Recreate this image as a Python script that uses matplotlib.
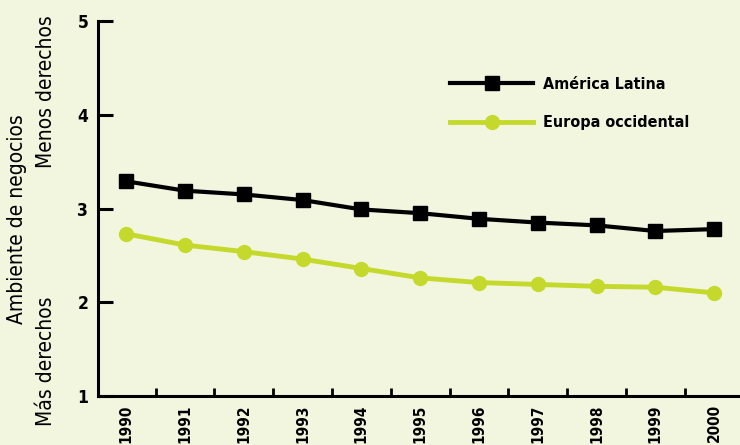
import matplotlib.pyplot as plt

years = ['1990', '1991', '1992', '1993', '1994', '1995',
         '1996', '1997', '1998', '1999', '2000']
america_latina = [3.29, 3.19, 3.15, 3.09, 2.99, 2.95, 2.89, 2.85, 2.82, 2.76, 2.78]
europa_occidental = [2.73, 2.61, 2.54, 2.46, 2.36, 2.26, 2.21, 2.19, 2.17, 2.16, 2.10]

BG = '#F2F6DF'
GREEN = '#C5D92D'

plt.rcParams['font.family'] = ['DejaVu Sans']
plt.rcParams['font.stretch'] = 'condensed'


def main():
    fig = plt.figure(figsize=(7.4, 4.45), dpi=100, facecolor=BG)
    W, H = 740, 445
    ax = fig.add_axes([98 / W, (H - 396) / H, (W - 98) / W, (396 - 21) / H])
    ax.set_facecolor(BG)

    x = list(range(len(years)))
    ax.plot(x, america_latina, color='black', lw=3, marker='s', ms=10.5,
            label='América Latina', clip_on=False)
    ax.plot(x, europa_occidental, color=GREEN, lw=3.5, marker='o', ms=10,
            label='Europa occidental', clip_on=False)

    ax.set_xlim(-0.48, 10.44)
    ax.set_ylim(1, 5)

    for s in ['top', 'right']:
        ax.spines[s].set_visible(False)
    for s in ['left', 'bottom']:
        ax.spines[s].set_linewidth(2.2)

    ax.set_yticks([1, 2, 3, 4, 5])
    ax.tick_params(axis='y', direction='in', length=11, width=2.2, pad=7,
                   labelsize=12.5)
    for t in ax.get_yticklabels():
        t.set_fontweight('bold')

    ax.set_xticks(x)
    ax.set_xticklabels(years, rotation=90, fontsize=11, fontweight='bold')
    ax.tick_params(axis='x', which='major', length=0, pad=6)
    ax.set_xticks([i + 0.5 for i in range(len(years) - 1)], minor=True)
    ax.tick_params(axis='x', which='minor', direction='in', length=6, width=2)

    ax.legend(loc='upper left', bbox_to_anchor=(450 / W, 1 - 77 / H),
              bbox_transform=fig.transFigure, frameon=False,
              handlelength=5.2, handletextpad=0.6, labelspacing=1.45,
              borderpad=0, borderaxespad=0, numpoints=1,
              prop={'size': 11.5, 'weight': 'bold', 'stretch': 'condensed'})

    fig.text(17 / W, 1 - 219 / H, 'Ambiente de negocios', rotation=90,
             ha='center', va='center', fontsize=15)
    fig.text(46 / W, 1 - 92 / H, 'Menos derechos', rotation=90,
             ha='center', va='center', fontsize=15)
    fig.text(46 / W, 1 - 361 / H, 'Más derechos', rotation=90,
             ha='center', va='center', fontsize=15)

    fig.savefig('out.png', dpi=100, facecolor=BG)


if __name__ == "__main__":
    main()
